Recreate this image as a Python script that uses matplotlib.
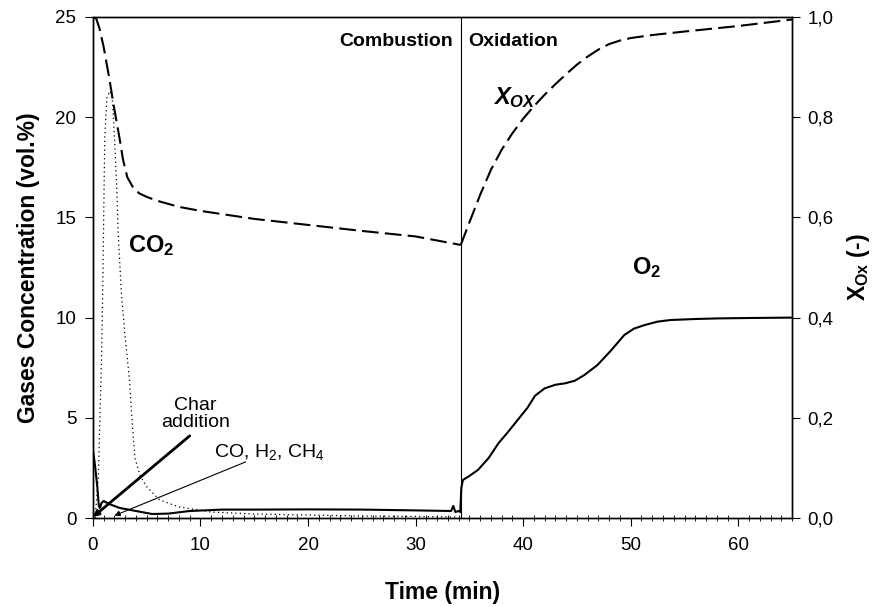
import numpy as np
import matplotlib.pyplot as plt
from matplotlib.ticker import MultipleLocator, FuncFormatter

plt.rcParams['font.family'] = ['Liberation Sans', 'DejaVu Sans']
plt.rcParams['mathtext.fontset'] = 'custom'
plt.rcParams['mathtext.rm'] = 'Liberation Sans'
plt.rcParams['mathtext.it'] = 'Liberation Sans:italic:bold'
plt.rcParams['mathtext.bf'] = 'Liberation Sans:bold'

# O2 (vol.%) - left axis
o2_t = [0.0, 0.05, 0.2, 0.4, 0.55, 0.65, 0.8, 1.0, 1.5, 2.5, 4.0, 5.5, 7.0, 9.0, 12, 15, 20, 25, 30, 33.3,
        33.5, 33.7, 34.0, 34.15, 34.25, 34.4, 35.0, 35.8, 36.8, 37.7, 38.6, 39.5, 40.4, 41.1, 42.0, 43.0,
        43.9, 44.8, 45.7, 46.9, 48.2, 49.4, 50.3, 51.3, 52.5, 53.7, 56.0, 58.1, 61.0, 65.0]
o2_v = [3.4, 3.2, 2.6, 1.6, 0.6, 0.5, 0.75, 0.85, 0.7, 0.5, 0.35, 0.2, 0.22, 0.35, 0.42, 0.42, 0.43, 0.42, 0.38, 0.35,
        0.6, 0.3, 0.35, 0.3, 1.5, 1.9, 2.1, 2.4, 3.0, 3.73, 4.3, 4.9, 5.5, 6.1, 6.47, 6.65,
        6.72, 6.85, 7.14, 7.63, 8.38, 9.13, 9.45, 9.63, 9.8, 9.88, 9.93, 9.96, 9.98, 10.0]

# CO2 (vol.%) - left axis, dotted
co2_t = [0.2, 0.5, 0.6, 0.8, 0.9, 1.0, 1.1, 1.3, 1.6, 1.8, 2.0, 2.2, 2.35, 2.65, 3.0, 3.4, 3.6, 3.9, 4.4,
         5.0, 6.2, 8.0, 11.0, 15.0, 20.0, 25.0, 30.0, 34.0]
co2_v = [0.0, 2.0, 4.0, 8.0, 11.0, 15.0, 19.0, 21.0, 21.3, 21.0, 19.0, 16.7, 14.2, 11.2, 9.0, 6.9, 5.2, 3.0, 2.1,
         1.56, 0.9, 0.55, 0.3, 0.2, 0.15, 0.1, 0.08, 0.05]

# X_OX (-) - right axis, dashed
xox_t1 = [0.0, 0.3, 0.6, 1.0, 1.5, 2.0, 2.5, 2.8, 3.2, 3.7, 4.3, 5.0, 6.0, 8.0, 10.0, 15.0, 20.0, 25.0, 30.0, 34.2]
xox_v1 = [1.0, 0.997, 0.978, 0.94, 0.88, 0.815, 0.755, 0.715, 0.68, 0.661, 0.648, 0.641, 0.633, 0.621, 0.613,
          0.597, 0.585, 0.573, 0.562, 0.545]
xox_t2 = [34.2, 35.0, 36.0, 37.0, 38.0, 39.0, 40.0, 41.0, 42.0, 43.0, 44.0, 45.0, 46.0, 47.0, 48.0, 49.0,
          50.0, 52.0, 55.0, 60.0, 65.0]
xox_v2 = [0.545, 0.59, 0.645, 0.695, 0.735, 0.768, 0.797, 0.822, 0.845, 0.866, 0.886, 0.905, 0.921, 0.935,
          0.946, 0.953, 0.958, 0.964, 0.971, 0.982, 0.995]

t_switch = 34.2

fig = plt.figure(figsize=(8.85, 6.07), dpi=100)
ax = fig.add_axes([0.105, 0.1466, 0.79, 0.8254])
ax2 = ax.twinx()

ax.plot(co2_t, co2_v, color='black', lw=0.9, linestyle=(0, (1, 2.5)))
ax.plot(o2_t, o2_v, color='black', lw=1.5)
ax2.plot(xox_t1, xox_v1, color='black', lw=1.5, dashes=(8, 3))
ax2.plot(xox_t2, xox_v2, color='black', lw=1.5, dashes=(8, 3))
ax.axvline(t_switch, color='black', lw=0.8)

ax.set_xlim(0, 65)
ax.set_ylim(0, 25)
ax2.set_ylim(0, 1.0)
ax.xaxis.set_major_locator(MultipleLocator(10))
ax.xaxis.set_minor_locator(MultipleLocator(1))
ax.yaxis.set_major_locator(MultipleLocator(5))
ax2.yaxis.set_major_locator(MultipleLocator(0.2))
ax2.yaxis.set_major_formatter(FuncFormatter(lambda v, p: f'{v:.1f}'.replace('.', ',')))

ax.tick_params(axis='both', which='major', direction='out', length=6, labelsize=13.5)
ax.tick_params(axis='x', which='major', pad=8)
ax.tick_params(axis='y', which='major', pad=6)
ax.tick_params(axis='x', which='minor', direction='inout', length=4, width=0.6)
ax2.tick_params(axis='y', direction='out', length=6, labelsize=13.5, pad=5)
for a in (ax, ax2):
    for s in a.spines.values():
        s.set_linewidth(1.0)

ax.set_xlabel('Time (min)', fontsize=16.5, fontweight='bold', labelpad=19)
ax.set_ylabel('Gases Concentration (vol.%)', fontsize=16.5, fontweight='bold', labelpad=11)
ax2.set_ylabel(r'$\mathbf{X_{Ox}}$ (-)', fontsize=16.5, fontweight='bold', labelpad=8)

ax.text(33.5, 23.8, 'Combustion', ha='right', va='center', fontsize=14, fontweight='bold')
ax.text(34.9, 23.8, 'Oxidation', ha='left', va='center', fontsize=14, fontweight='bold')
ax.text(3.25, 13.6, r'$\mathbf{CO_2}$', ha='left', va='center', fontsize=17)
ax.text(50.1, 12.5, r'$\mathbf{O_2}$', ha='left', va='center', fontsize=17)
ax.text(37.2, 21.0, r'$X_{OX}$', ha='left', va='center', fontsize=17)

ax.text(9.55, 5.2, 'Char\naddition', ha='center', va='center', fontsize=14, linespacing=1.0)
ax.text(16.4, 3.3, r'CO, H$_2$, CH$_4$', ha='center', va='center', fontsize=14)
ax.annotate('', xy=(0.0, 0.05), xytext=(9.0, 4.1),
            arrowprops=dict(arrowstyle='-|>', color='black', lw=2, mutation_scale=8, shrinkA=0, shrinkB=0))
ax.annotate('', xy=(2.0, 0.12), xytext=(14.2, 2.8),
            arrowprops=dict(arrowstyle='-|>', color='black', lw=0.8, mutation_scale=8, shrinkA=0, shrinkB=0))

fig.savefig('out.png', dpi=100)
